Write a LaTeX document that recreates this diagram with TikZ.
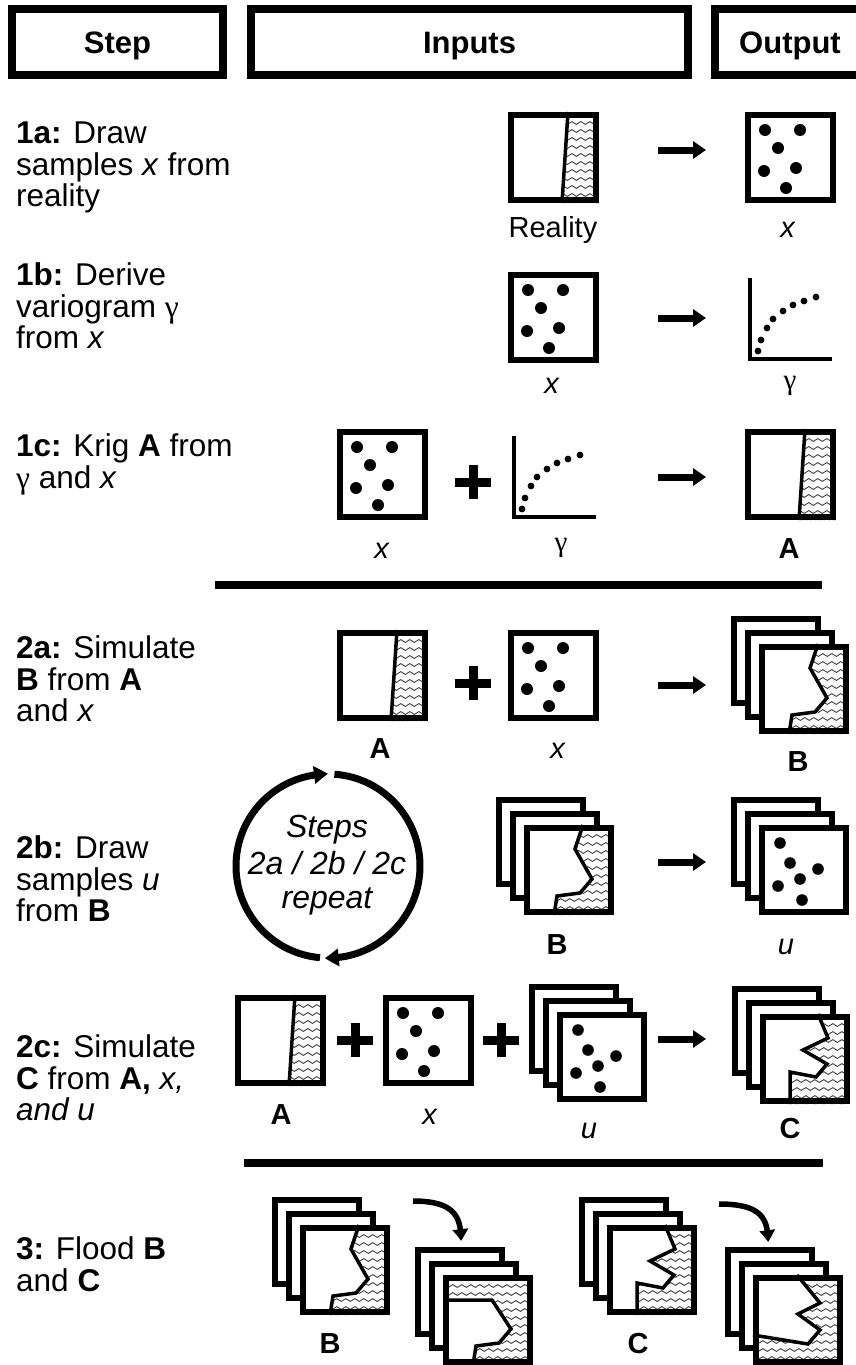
\documentclass[tikz,border=0pt]{standalone}
\usepackage{fontspec}
\setmainfont{Liberation Sans}
\newfontfamily\gfont{Liberation Serif}
\usetikzlibrary{arrows.meta,bending,decorations.pathmorphing}

% hatch: size, clip path
\newcommand\waves[2]{\begin{scope}\clip #2;\foreach \k in {0,...,11}{\draw[wave] (-2,{3+8*\k}) -- ({#1+2},{3+8*\k});}\end{scope}}
\newcommand\emptyplate[1]{\fill[white] (0,0) rectangle (#1,#1);\draw[platedraw] (3,3) rectangle ({#1-3},{#1-3});}
\newcommand\plateborder[1]{\draw[platedraw] (3,3) rectangle ({#1-3},{#1-3});}
\newcommand\xdots{\foreach \a/\b in {20/18,55/18,33/36,19/59,51/56,41/76}{\fill (\a,\b) circle[radius=6];}}
\newcommand\udots{\foreach \a/\b in {21/18,31/38,59/44,41/54,19/61,43/75}{\fill (\a,\b) circle[radius=5.8];}}
\newcommand\vario{\draw[axis] (0,-81) -- (0,0) -- (82,0);
  \foreach \a/\b in {8/-8,11/-19,17/-31,23/-40,33/-48,43/-54,54/-58,66/-62}{\fill (\a,\b) circle[radius=3.4];}}
\newcommand\realityicon{\fill[white] (0,0) rectangle (91,91);
  \waves{91}{(60,0) -- (91,0) -- (91,91) -- (54,91) -- cycle}
  \draw[bnd] (60,0) -- (54,91);\plateborder{91}}
\newcommand\xicon{\emptyplate{91}\xdots}
\newcommand\Bfront{\fill[white] (0,0) rectangle (90,90);
  \waves{90}{(59,0) -- (51,24) -- (68,54) -- (56,68) -- (33,71) -- (30,90) -- (90,90) -- (90,0) -- cycle}
  \draw[bnd] (59,0) -- (51,24) -- (68,54) -- (56,68) -- (33,71) -- (30,90);\plateborder{90}}
\newcommand\Cfront{\fill[white] (0,0) rectangle (90,90);
  \waves{90}{(58,0) -- (68,24) -- (43,36) -- (67,50) -- (56,63) -- (30,58) -- (30,90) -- (90,90) -- (90,0) -- cycle}
  \draw[bnd] (58,0) -- (68,24) -- (43,36) -- (67,50) -- (56,63) -- (30,58) -- (30,90);\plateborder{90}}
\newcommand\FBfront{\fill[white] (0,0) rectangle (90,90);
  \waves{90}{(0,0) -- (90,0) -- (90,90) -- (30,90) -- (33,71) -- (56,68) -- (68,54) -- (49,25) -- (0,25) -- cycle}
  \draw[bnd] (0,25) -- (49,25) -- (68,54) -- (56,68) -- (33,71) -- (30,90);\plateborder{90}}
\newcommand\FCfront{\fill[white] (0,0) rectangle (90,90);
  \waves{90}{(44,0) -- (67,28) -- (45,39) -- (67,55) -- (55,69) -- (0,60) -- (0,90) -- (90,90) -- (90,0) -- cycle}
  \draw[bnd] (44,0) -- (67,28) -- (45,39) -- (67,55) -- (55,69) -- (0,60);\plateborder{90}}
\newcommand\ufront{\emptyplate{90}\udots}
% stack: #1 front content
\newcommand\stackof[1]{\emptyplate{90}\begin{scope}[shift={(14,14)}]\emptyplate{90}\end{scope}\begin{scope}[shift={(28,28)}]#1\end{scope}}

\begin{document}
\begin{tikzpicture}[x=1pt,y=-1pt,
  platedraw/.style={line width=6pt,line join=miter},
  bnd/.style={line width=3.5pt,line join=miter},
  wave/.style={decorate,decoration={snake,amplitude=1.4pt,segment length=9pt},line width=0.9pt,black!75},
  bigarrow/.style={line width=7pt,-{Triangle[length=13pt,width=17pt]}},
  cycarrow/.style={line width=7pt,-{Triangle[length=14pt,width=17pt,bend]}},
  curvarrow/.style={line width=5.5pt,-{Triangle[length=12pt,width=15pt,bend]}},
  plusbar/.style={line width=9pt},
  hr/.style={line width=8pt},
  axis/.style={line width=4pt,line join=miter},
  hdrbox/.style={draw,line width=8pt,inner sep=0pt,minimum height=66pt,
     font=\fontsize{31}{33}\selectfont\bfseries,text height=22pt,text depth=0pt},
  lbl/.style={inner sep=0pt,anchor=base,font=\fontsize{29}{31}\selectfont},
  stxt/.style={inner sep=0pt,anchor=base west,font=\fontsize{31.5}{33}\selectfont},
  ctxt/.style={inner sep=0pt,anchor=base,font=\fontsize{32}{34}\selectfont\itshape},
]
\useasboundingbox (0,0) rectangle (856,1365);
\clip (0,0) rectangle (856,1365);
\fill[white] (0,0) rectangle (856,1365);

% header
\node[hdrbox,minimum width=211pt] (hstep) at (117.5,42) {Step};
\node[hdrbox,minimum width=437pt] (hinp) at (469.5,42) {Inputs};
\node[hdrbox,minimum width=150pt] (hout) at (790,42) {Output};

% left column
\node[stxt] (t1a1) at (16,143) {\textbf{1a:} Draw};
\node[stxt] (t1a2) at (16,175) {samples \textit{x} from};
\node[stxt] (t1a3) at (16,206) {reality};
\node[stxt] (t1b1) at (16,285) {\textbf{1b:} Derive};
\node[stxt] (t1b2) at (16,317) {variogram {\gfont γ}};
\node[stxt] (t1b3) at (16,348) {from \textit{x}};
\node[stxt] (t1c1) at (16,456) {\textbf{1c:} Krig \textbf{A} from};
\node[stxt] (t1c2) at (16,488) {{\gfont γ} and \textit{x}};
\node[stxt] (t2a1) at (16,658) {\textbf{2a:} Simulate};
\node[stxt] (t2a2) at (16,690) {\textbf{B} from \textbf{A}};
\node[stxt] (t2a3) at (16,721) {and \textit{x}};
\node[stxt] (t2b1) at (16,858) {\textbf{2b:} Draw};
\node[stxt] (t2b2) at (16,890) {samples \textit{u}};
\node[stxt] (t2b3) at (16,921) {from \textbf{B}};
\node[stxt] (t2c1) at (16,1057) {\textbf{2c:} Simulate};
\node[stxt] (t2c2) at (16,1089) {\textbf{C} from \textbf{A,} \textit{x,}};
\node[stxt] (t2c3) at (16,1120) {\textit{and u}};
\node[stxt] (t3a) at (16,1259) {\textbf{3:} Flood \textbf{B}};
\node[stxt] (t3b) at (16,1291) {and \textbf{C}};

% ---- row 1a
\begin{scope}[shift={(508,112)}]\realityicon\end{scope}
\begin{scope}[shift={(745,112)}]\xicon\end{scope}
\coordinate (a1s) at (658,150); \coordinate (a1e) at (706,150);
\draw[bigarrow] (a1s) -- (a1e);
\node[lbl] (l1a) at (553,237) {Reality};
\node[lbl] (l1b) at (788,237) {\textit{x}};

% ---- row 1b
\begin{scope}[shift={(508,272)}]\xicon\end{scope}
\begin{scope}[shift={(750,359)}]\vario\end{scope}
\coordinate (a2s) at (658,318); \coordinate (a2e) at (706,318);
\draw[bigarrow] (a2s) -- (a2e);
\node[lbl] (l2a) at (552,393) {\textit{x}};
\node[lbl] (l2b) at (790,389) {\gfont γ};

% ---- row 1c
\begin{scope}[shift={(337,429)}]\xicon\end{scope}
\coordinate (p1) at (473,482);
\draw[plusbar] (p1) ++(-18,0) -- ++(36,0); \draw[plusbar] (p1) ++(0,-17) -- ++(0,34);
\begin{scope}[shift={(514,517)}]\vario\end{scope}
\coordinate (a3s) at (658,477); \coordinate (a3e) at (706,477);
\draw[bigarrow] (a3s) -- (a3e);
\begin{scope}[shift={(745,429)}]\realityicon\end{scope}
\node[lbl] (l3a) at (382,558) {\textit{x}};
\node[lbl] (l3b) at (561,551) {\gfont γ};
\node[lbl] (l3c) at (789,558) {\textbf{A}};
\draw[hr] (215,585) -- (822,585);

% ---- row 2a
\begin{scope}[shift={(337,630)}]\realityicon\end{scope}
\coordinate (p2) at (473,683);
\draw[plusbar] (p2) ++(-18,0) -- ++(36,0); \draw[plusbar] (p2) ++(0,-17) -- ++(0,34);
\begin{scope}[shift={(508,630)}]\xicon\end{scope}
\coordinate (a4s) at (658,685); \coordinate (a4e) at (706,685);
\draw[bigarrow] (a4s) -- (a4e);
\begin{scope}[shift={(731,616)}]\stackof{\Bfront}\end{scope}
\node[lbl] (l4a) at (380,758) {\textbf{A}};
\node[lbl] (l4b) at (558,758) {\textit{x}};
\node[lbl] (l4c) at (798,771) {\textbf{B}};

% ---- row 2b
\coordinate (cyc) at (328,866);
\draw[cycarrow] (cyc) ++(95:92) arc[start angle=95,end angle=270,radius=92];
\draw[cycarrow] (cyc) ++(274:92) arc[start angle=274,end angle=452,radius=92];
\node[ctxt] (c1) at (327,837) {Steps};
\node[ctxt] (c2) at (327,874) {2a / 2b / 2c};
\node[ctxt] (c3) at (327,908) {repeat};
\begin{scope}[shift={(496,797)}]\stackof{\Bfront}\end{scope}
\coordinate (a5s) at (658,862); \coordinate (a5e) at (706,862);
\draw[bigarrow] (a5s) -- (a5e);
\begin{scope}[shift={(731,797)}]\stackof{\ufront}\end{scope}
\node[lbl] (l5a) at (557,954) {\textbf{B}};
\node[lbl] (l5b) at (786,954) {\textit{u}};

% ---- row 2c
\begin{scope}[shift={(235,995)}]\realityicon\end{scope}
\coordinate (p3) at (355,1040);
\draw[plusbar] (p3) ++(-18,0) -- ++(36,0); \draw[plusbar] (p3) ++(0,-17) -- ++(0,34);
\begin{scope}[shift={(383,995)}]\xicon\end{scope}
\coordinate (p4) at (501,1040);
\draw[plusbar] (p4) ++(-18,0) -- ++(36,0); \draw[plusbar] (p4) ++(0,-17) -- ++(0,34);
\begin{scope}[shift={(529,984)}]\stackof{\ufront}\end{scope}
\coordinate (a6s) at (658,1039); \coordinate (a6e) at (706,1039);
\draw[bigarrow] (a6s) -- (a6e);
\begin{scope}[shift={(732,986)}]\stackof{\Cfront}\end{scope}
\node[lbl] (l6a) at (281,1124) {\textbf{A}};
\node[lbl] (l6b) at (430,1124) {\textit{x}};
\node[lbl] (l6c) at (589,1138) {\textit{u}};
\node[lbl] (l6d) at (790,1138) {\textbf{C}};
\draw[hr] (244,1163) -- (823,1163);

% ---- row 3
\begin{scope}[shift={(272,1197)}]\stackof{\Bfront}\end{scope}
\coordinate (c1s) at (413,1201); \coordinate (c1e) at (461,1241);
\draw[curvarrow] (c1s) .. controls +(42,0) and +(0,-24) .. (c1e);
\begin{scope}[shift={(415,1247)}]\stackof{\FBfront}\end{scope}
\begin{scope}[shift={(579,1197)}]\stackof{\Cfront}\end{scope}
\coordinate (c2s) at (719,1204); \coordinate (c2e) at (768,1242);
\draw[curvarrow] (c2s) .. controls +(42,0) and +(0,-24) .. (c2e);
\begin{scope}[shift={(725,1247)}]\stackof{\FCfront}\end{scope}
\node[lbl] (l7a) at (330,1353) {\textbf{B}};
\node[lbl] (l7b) at (638,1353) {\textbf{C}};
\end{tikzpicture}
\end{document}
